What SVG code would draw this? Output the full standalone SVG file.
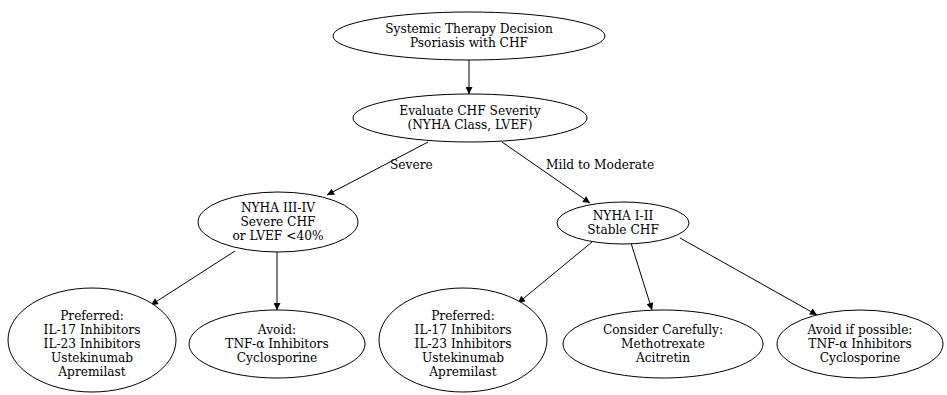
<svg xmlns="http://www.w3.org/2000/svg" width="947" height="395" viewBox="0 0 947 395">
<style>
.n ellipse{fill:#fff;stroke:#000;stroke-width:1}
text{font-family:"DejaVu Serif","Liberation Serif",serif;font-size:12.2px;fill:#000;text-anchor:middle}
.e line{stroke:#000;stroke-width:1}
.lbl{text-anchor:start}
</style>
<defs>
<marker id="ah" viewBox="0 0 10 10" refX="10" refY="5" markerWidth="10" markerHeight="7" markerUnits="userSpaceOnUse" orient="auto">
<path d="M0,0 L10,5 L0,10 z" fill="#000"/>
</marker>
</defs>
<rect width="947" height="395" fill="#fff"/>
<g id="edges" class="e">
<line x1="469" y1="60" x2="469" y2="94" marker-end="url(#ah)"/>
<line x1="428" y1="142" x2="327" y2="195" marker-end="url(#ah)"/>
<line x1="502" y1="142" x2="590" y2="203" marker-end="url(#ah)"/>
<line x1="235" y1="251" x2="151" y2="305" marker-end="url(#ah)"/>
<line x1="277" y1="252" x2="277" y2="310" marker-end="url(#ah)"/>
<line x1="592" y1="242" x2="518" y2="303" marker-end="url(#ah)"/>
<line x1="631" y1="243" x2="652" y2="310" marker-end="url(#ah)"/>
<line x1="680" y1="238" x2="817" y2="315" marker-end="url(#ah)"/>
<text class="lbl" x="390" y="169">Severe</text>
<text class="lbl" x="546" y="169">Mild to Moderate</text>
</g>
<g id="n1" class="n"><ellipse cx="469" cy="36" rx="136" ry="24"/><text x="469" y="33">Systemic Therapy Decision</text><text x="469" y="47">Psoriasis with CHF</text></g>
<g id="n2" class="n"><ellipse cx="470" cy="118" rx="117" ry="24"/><text x="470" y="115">Evaluate CHF Severity</text><text x="470" y="129">(NYHA Class, LVEF)</text></g>
<g id="n3" class="n"><ellipse cx="278" cy="222" rx="80" ry="30"/><text x="278" y="212">NYHA III-IV</text><text x="278" y="226">Severe CHF</text><text x="278" y="240">or LVEF &lt;40%</text></g>
<g id="n4" class="n"><ellipse cx="623" cy="223" rx="66" ry="21"/><text x="623" y="220">NYHA I-II</text><text x="623" y="234">Stable CHF</text></g>
<g id="n5" class="n"><ellipse cx="92" cy="340" rx="84" ry="52"/><text x="92" y="320">Preferred:</text><text x="92" y="334">IL-17 Inhibitors</text><text x="92" y="348">IL-23 Inhibitors</text><text x="92" y="362">Ustekinumab</text><text x="92" y="376">Apremilast</text></g>
<g id="n6" class="n"><ellipse cx="277" cy="344" rx="88" ry="34"/><text x="277" y="334">Avoid:</text><text x="277" y="348">TNF-α Inhibitors</text><text x="277" y="362">Cyclosporine</text></g>
<g id="n7" class="n"><ellipse cx="463" cy="340" rx="84" ry="52"/><text x="463" y="320">Preferred:</text><text x="463" y="334">IL-17 Inhibitors</text><text x="463" y="348">IL-23 Inhibitors</text><text x="463" y="362">Ustekinumab</text><text x="463" y="376">Apremilast</text></g>
<g id="n8" class="n"><ellipse cx="663" cy="344" rx="100" ry="34"/><text x="663" y="334">Consider Carefully:</text><text x="663" y="348">Methotrexate</text><text x="663" y="362">Acitretin</text></g>
<g id="n9" class="n"><ellipse cx="860" cy="344" rx="83" ry="34"/><text x="860" y="334">Avoid if possible:</text><text x="860" y="348">TNF-α Inhibitors</text><text x="860" y="362">Cyclosporine</text></g>
</svg>
